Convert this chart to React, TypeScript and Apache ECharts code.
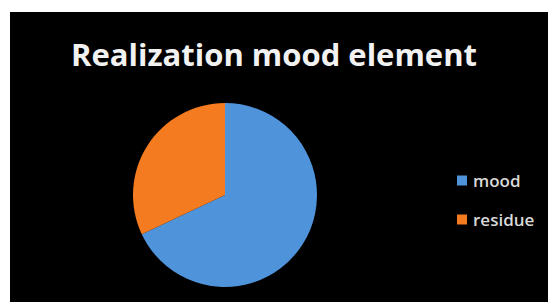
import React, { useEffect, useRef } from "react";
import * as echarts from "echarts";

const categories = ["mood", "residue"];
const values = [68, 32];
const colors = ["#4f93db", "#f47b20"];
const titleText = "Realization mood element";

export default function App() {
  const ref = useRef<HTMLDivElement>(null);
  useEffect(() => {
    if (!ref.current) return;
    const chart = echarts.init(ref.current, null, { renderer: "svg" });
    chart.setOption({
      animation: false,
      backgroundColor: "#000",
      title: {
        text: titleText,
        left: 259,
        textAlign: "center",
        top: 21,
        textStyle: {
          color: "#f2f2f2",
          fontFamily: "Open Sans",
          fontWeight: "bold",
          fontSize: 31,
        },
      },
      legend: {
        orient: "vertical",
        left: 442,
        top: 155,
        itemWidth: 10,
        itemHeight: 10,
        itemGap: 22,
        icon: "rect",
        textStyle: { color: "#d9d9d9", fontFamily: "Open Sans", fontWeight: 600, fontSize: 17, padding: [0, 0, 0, 1] },
        data: categories,
      },
      series: [
        {
          type: "pie",
          center: [215, 183],
          radius: 92,
          startAngle: 90,
          clockwise: true,
          label: { show: false },
          labelLine: { show: false },
          itemStyle: { borderWidth: 0 },
          data: categories.map((c, i) => ({
            name: c,
            value: values[i],
            itemStyle: { color: colors[i] },
          })),
        },
      ],
    });
    return () => chart.dispose();
  }, []);
  return (
    <div style={{ position: "absolute", left: 0, top: 0, width: 548, height: 302, background: "#fff" }}>
      <div
        ref={ref}
        style={{ position: "absolute", left: 10, top: 12, width: 538, height: 290, background: "#000" }}
      />
    </div>
  );
}
